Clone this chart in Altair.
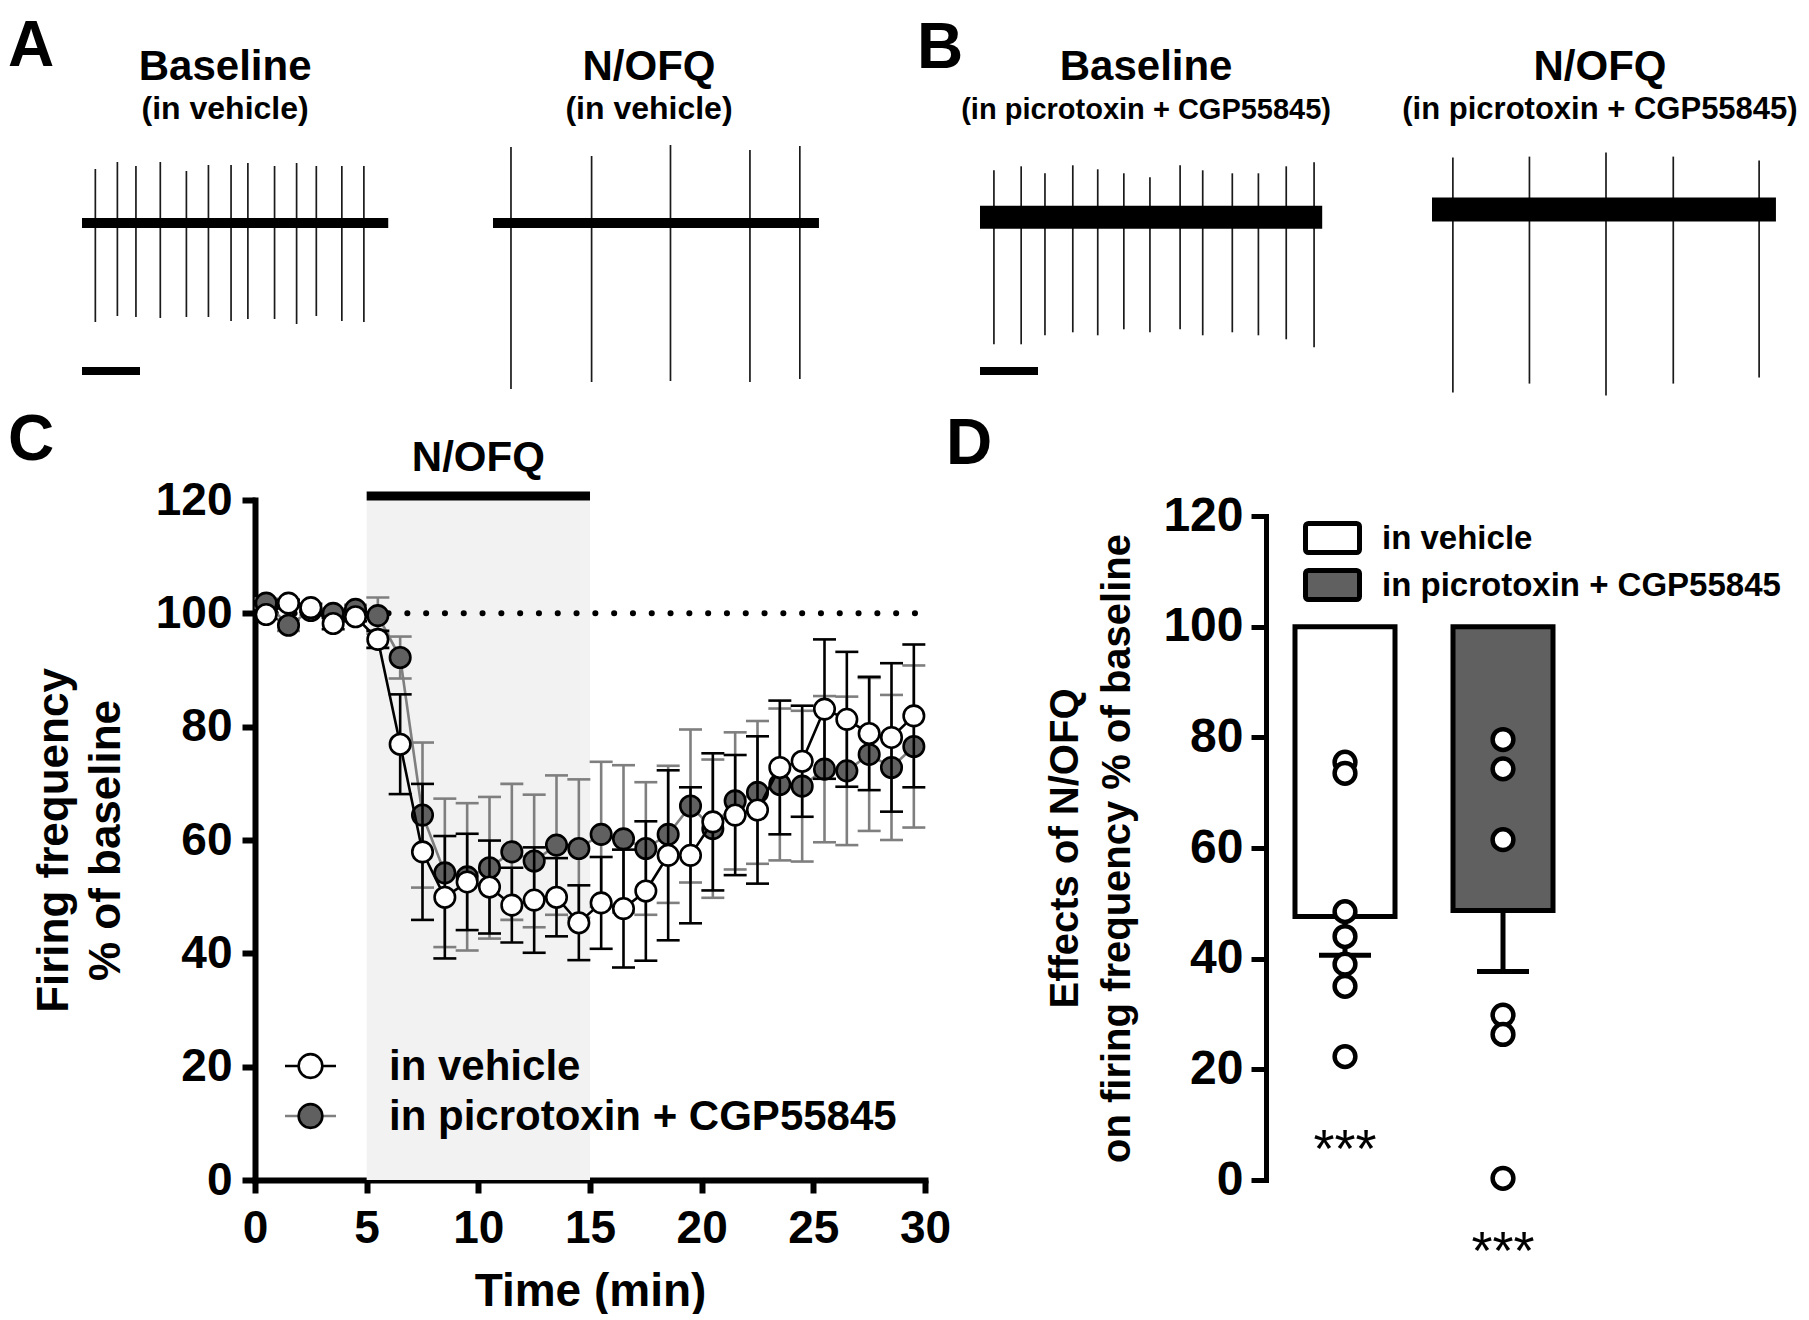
import altair as alt
import pandas as pd

FONT = "Liberation Sans"

# ---------------- A / B : example recordings ----------------
trace_titles = ["Baseline", "N/OFQ", "Baseline", "N/OFQ"]
trace_subtitles = ["(in vehicle)", "(in vehicle)",
                   "(in picrotoxin + CGP55845)", "(in picrotoxin + CGP55845)"]
trace_duration = [5.28, 5.62, 5.90, 5.93]      # s
trace_dc = [0.0, 0.0, 5.7, 13.4]                # baseline level
trace_noise = [5.0, 5.0, 11.5, 12.0]            # half width of noise band

spikes_A_base_t = [0.23, 0.61, 0.93, 1.35, 1.80, 2.18, 2.57, 2.86, 3.32, 3.70, 4.04, 4.48, 4.86]
spikes_A_base_up = [54, 61, 57, 61, 52, 58, 58, 60, 57, 60, 57, 57, 57]
spikes_A_base_down = [99, 93, 94, 95, 94, 94, 98, 96, 96, 101, 93, 98, 99]

spikes_A_nofq_t = [0.31, 1.70, 3.06, 4.43, 5.29]
spikes_A_nofq_up = [76, 67, 78, 73, 77]
spikes_A_nofq_down = [166, 159, 158, 159, 156]

spikes_B_base_t = [0.24, 0.71, 1.12, 1.60, 2.03, 2.48, 2.93, 3.45, 3.84, 4.35, 4.80, 5.28, 5.76]
spikes_B_base_up = [47, 51, 44, 52, 48, 44, 40, 52, 47, 44, 44, 51, 55]
spikes_B_base_down = [127, 127, 118, 115, 118, 112, 115, 112, 118, 115, 118, 122, 130]

spikes_B_nofq_t = [0.36, 1.68, 3.00, 4.16, 5.64]
spikes_B_nofq_up = [52, 53, 57, 53, 49]
spikes_B_nofq_down = [183, 174, 186, 174, 168]

scale_bar_s = 1.0

# ---------------- C : time course ----------------
time_min = [0.5, 1.5, 2.5, 3.5, 4.5, 5.5, 6.5, 7.5, 8.5, 9.5, 10.5, 11.5, 12.5, 13.5, 14.5,
            15.5, 16.5, 17.5, 18.5, 19.5, 20.5, 21.5, 22.5, 23.5, 24.5, 25.5, 26.5, 27.5, 28.5, 29.5]
veh_mean = [99.8, 101.8, 101.0, 98.2, 99.4, 95.4, 76.9, 57.9, 49.9, 52.6, 51.7, 48.5, 49.4, 49.9, 45.4,
            48.9, 47.9, 51.0, 57.3, 57.3, 63.2, 64.4, 65.3, 72.8, 73.9, 83.1, 81.3, 78.8, 78.1, 81.9]
veh_sem = [0.8, 0.6, 0.7, 1.0, 0.8, 1.5, 8.8, 12.0, 10.8, 8.5, 8.2, 6.6, 9.3, 6.9, 6.6,
           8.1, 10.4, 12.3, 15.0, 12.0, 12.1, 10.6, 13.0, 11.8, 9.8, 12.3, 11.9, 10.0, 13.1, 12.6]
pic_mean = [101.8, 97.9, 100.5, 100.0, 100.7, 99.6, 92.2, 64.4, 54.2, 53.5, 55.1, 57.9, 56.3, 59.1, 58.5,
            61.0, 60.2, 58.5, 61.0, 66.0, 62.0, 66.9, 68.4, 69.8, 69.5, 72.5, 72.2, 75.1, 72.8, 76.5]
pic_sem = [0.8, 1.0, 0.8, 0.8, 0.8, 3.2, 3.7, 12.8, 13.1, 13.0, 12.5, 12.0, 11.7, 12.3, 12.2,
           12.8, 13.0, 11.7, 12.1, 13.5, 12.2, 12.1, 12.6, 13.4, 13.3, 12.9, 13.1, 13.5, 12.8, 14.3]
series_names = ["in vehicle", "in picrotoxin + CGP55845"]
drug_label = "N/OFQ"
drug_start, drug_end = 5, 15
baseline_pct = 100
time_ticks = [0, 5, 10, 15, 20, 25, 30]
pct_ticks = [0, 20, 40, 60, 80, 100, 120]

# ---------------- D : summary ----------------
d_mean = [47.6, 48.7]
d_sem = [7.0, 11.0]
d_points_vehicle = [75.5, 73.5, 48.5, 44.0, 39.0, 35.0, 22.3]
d_points_picro = [79.6, 74.3, 61.5, 29.8, 26.3, 0.3]
sig_label = "***"

# ================= layout / style constants =================
PX_PER_S = 58
TRACE_Y = [-175, 92]
TRACE_H = TRACE_Y[1] - TRACE_Y[0]
trace_pad_px = [32, 72, 89, 20]
title_dx = [-10, -7, -5, -4]
sub_sizes = [32, 32, 29, 31]
sig_gap = [14.4, 10.7]          # annotation gap below the lowest point (y units)
W_C, H_C = 670, 680
W_D, H_D = 316, 680
D_TOP = 16
FILL_COLORS = ["white", "#606060"]
LINE_COLORS = ["black", "#7f7f7f"]


def letter_layer(letter, px, py):
    return alt.Chart(pd.DataFrame({"l": [letter]})).mark_text(
        font=FONT, fontSize=64, fontWeight="bold", align="left",
        baseline="alphabetic", color="black"
    ).encode(text="l:N", x=alt.value(px), y=alt.value(py))


def trace_panel(i, t, up, down, scale_bar=False):
    dur = trace_duration[i]
    pad = trace_pad_px[i] / PX_PER_S
    dc = trace_dc[i]
    xs = alt.Scale(domain=[-pad, dur + pad], nice=False, zero=False)
    ys = alt.Scale(domain=TRACE_Y, nice=False, zero=False)
    band = pd.DataFrame({"x0": [0.0], "x1": [dur], "lo": [dc - trace_noise[i]],
                         "hi": [dc + trace_noise[i]]})
    sp = pd.DataFrame({"t": t, "top": [dc + u for u in up], "bot": [dc - d for d in down]})
    ttl = pd.DataFrame({"dur": [dur], "title": [trace_titles[i]], "sub": [trace_subtitles[i]]})
    layers = [
        alt.Chart(sp).mark_rule(color="#1a1a1a", strokeWidth=1.7).encode(
            x=alt.X("t:Q", scale=xs, axis=None),
            y=alt.Y("bot:Q", scale=ys, axis=None), y2="top:Q"),
        alt.Chart(band).mark_rect(color="black").encode(
            x=alt.X("x0:Q", scale=xs, axis=None), x2="x1:Q",
            y=alt.Y("lo:Q", scale=ys, axis=None), y2="hi:Q"),
        alt.Chart(ttl).transform_calculate(mid="datum.dur / 2").mark_text(
            font=FONT, fontSize=42, fontWeight="bold", baseline="alphabetic", color="black",
            dx=title_dx[i]).encode(
            x=alt.X("mid:Q", scale=xs, axis=None), y=alt.value(-51.5), text="title:N"),
        alt.Chart(ttl).transform_calculate(mid="datum.dur / 2").mark_text(
            font=FONT, fontSize=sub_sizes[i], fontWeight="bold", baseline="alphabetic",
            color="black", dx=title_dx[i]).encode(
            x=alt.X("mid:Q", scale=xs, axis=None), y=alt.value(-11.7), text="sub:N"),
    ]
    if scale_bar:
        sb = pd.DataFrame({"s0": [0.0], "s1": [scale_bar_s]})
        layers.append(alt.Chart(sb).mark_rule(color="black", strokeWidth=8).encode(
            x=alt.X("s0:Q", scale=xs, axis=None), x2="s1:Q", y=alt.value(240)))
    return alt.layer(*layers).properties(width=(dur + 2 * pad) * PX_PER_S, height=TRACE_H)


pA1 = trace_panel(0, spikes_A_base_t, spikes_A_base_up, spikes_A_base_down, scale_bar=True)
pA2 = trace_panel(1, spikes_A_nofq_t, spikes_A_nofq_up, spikes_A_nofq_down)
pB1 = trace_panel(2, spikes_B_base_t, spikes_B_base_up, spikes_B_base_down, scale_bar=True)
pB2 = trace_panel(3, spikes_B_nofq_t, spikes_B_nofq_up, spikes_B_nofq_down)
pB1 = alt.layer(pB1, letter_layer("B", 26, -62.9))
spacer_A = letter_layer("A", 0, -64.9).properties(width=42, height=TRACE_H)
row1 = alt.hconcat(spacer_A, pA1, pA2, pB1, pB2, spacing=0, bounds="flush")

# ================= panel C =================
rows = []
for name, m, s in [(series_names[0], veh_mean, veh_sem), (series_names[1], pic_mean, pic_sem)]:
    for t, mm, ss in zip(time_min, m, s):
        rows.append({"time": t, "series": name, "mean": mm, "lo": mm - ss, "hi": mm + ss})
df_c = pd.DataFrame(rows)

xs_c = alt.Scale(domain=[time_ticks[0], time_ticks[-1]], nice=False, zero=False)
ys_c = alt.Scale(domain=[pct_ticks[0], pct_ticks[-1]], nice=False)
ax_common = dict(labelFont=FONT, titleFont=FONT, labelFontWeight="bold", titleFontWeight="bold",
                 labelColor="black", titleColor="black", domainColor="black", tickColor="black",
                 grid=False, labelFlush=False, domainCap="square")
x_axis_c = alt.Axis(values=time_ticks, title="Time (min)", labelFontSize=46, titleFontSize=46,
                    domainWidth=6, tickWidth=6, tickSize=13, labelPadding=13, titlePadding=18,
                    **ax_common)
y_axis_c = alt.Axis(values=pct_ticks, title=["Firing frequency", "% of baseline"],
                    labelFontSize=46, titleFontSize=44, titleLineHeight=52,
                    domainWidth=6, tickWidth=6, tickSize=13, labelPadding=10, titlePadding=27,
                    **ax_common)


def XC(f):
    return alt.X(f, scale=xs_c, axis=x_axis_c)


def YC(f):
    return alt.Y(f, scale=ys_c, axis=y_axis_c)


color_c = alt.Color("series:N", scale=alt.Scale(domain=series_names, range=LINE_COLORS), legend=None)
fill_c = alt.Fill("series:N", scale=alt.Scale(domain=series_names, range=FILL_COLORS), legend=None)

drug_df = pd.DataFrame({"start": [drug_start], "end": [drug_end], "label": [drug_label]})
ref_df = pd.DataFrame({"x0": [time_ticks[0]], "x1": [time_ticks[-1]], "y": [baseline_pct]})

c_layers = [
    alt.Chart(drug_df).mark_rect(color="#f2f2f2").encode(
        x=XC("start:Q"), x2="end:Q", y=alt.value(0), y2=alt.value(H_C)),
    alt.Chart(ref_df).mark_rule(color="black", strokeWidth=6, strokeCap="round",
                                strokeDash=[0.1, 18.7], strokeDashOffset=-1.9).encode(
        x=XC("x0:Q"), x2="x1:Q", y=YC("y:Q")),
    alt.Chart(drug_df).mark_rule(color="black", strokeWidth=9).encode(
        x=XC("start:Q"), x2="end:Q", y=alt.value(-4)),
    alt.Chart(drug_df).transform_calculate(mid="(datum.start + datum.end) / 2").mark_text(
        font=FONT, fontSize=42, fontWeight="bold", baseline="alphabetic", color="black").encode(
        x=XC("mid:Q"), y=alt.value(-29), text="label:N"),
]
for name in [series_names[1], series_names[0]]:
    base = alt.Chart(df_c[df_c.series == name])
    c_layers += [
        base.mark_rule(strokeWidth=2.6).encode(x=XC("time:Q"), y=YC("lo:Q"), y2="hi:Q", color=color_c),
        base.mark_tick(orient="horizontal", size=23, thickness=2.6, opacity=1).encode(
            x=XC("time:Q"), y=YC("lo:Q"), color=color_c),
        base.mark_tick(orient="horizontal", size=23, thickness=2.6, opacity=1).encode(
            x=XC("time:Q"), y=YC("hi:Q"), color=color_c),
        base.mark_line(strokeWidth=2.6).encode(x=XC("time:Q"), y=YC("mean:Q"), color=color_c),
        base.mark_point(shape="circle", filled=True, size=420, stroke="black", strokeWidth=2.6,
                        opacity=1).encode(x=XC("time:Q"), y=YC("mean:Q"), fill=fill_c),
    ]

# legend of C (drawn as marks, one row per series)
for k, name in enumerate(series_names):
    row_y = 566 + 50 * k
    lab = alt.Chart(pd.DataFrame({"label": [name]}))
    c_layers += [
        lab.mark_rule(color=LINE_COLORS[k], strokeWidth=2.6).encode(
            x=alt.value(30), x2=alt.value(81), y=alt.value(row_y)),
        lab.mark_point(shape="circle", filled=True, fill=FILL_COLORS[k], stroke="black",
                       strokeWidth=2.6, size=560, opacity=1).encode(
            x=alt.value(55.5), y=alt.value(row_y)),
        lab.mark_text(font=FONT, fontSize=42, fontWeight="bold", align="left",
                      baseline="middle", color="black").encode(
            x=alt.value(134), y=alt.value(row_y + 1), text="label:N"),
    ]
chart_c = alt.layer(*c_layers).properties(width=W_C, height=H_C)

# ================= panel D =================
bars_df = pd.DataFrame({"group": series_names, "mean": d_mean, "base": [baseline_pct] * 2,
                        "lo": [m - s for m, s in zip(d_mean, d_sem)]})
pts_rows = [{"group": series_names[0], "v": v} for v in d_points_vehicle] + \
           [{"group": series_names[1], "v": v} for v in d_points_picro]
pts_df = pd.DataFrame(pts_rows)
sig_df = pd.DataFrame({"group": series_names, "label": [sig_label] * 2,
                       "y": [min(d_points_vehicle) - sig_gap[0], min(d_points_picro) - sig_gap[1]]})

xs_d = alt.Scale(domain=series_names, paddingInner=0.367, paddingOuter=0.1835)
ys_d = alt.Scale(domain=[pct_ticks[0], pct_ticks[-1]], range=[H_D, D_TOP], nice=False)
y_axis_d = alt.Axis(values=pct_ticks, title=["Effects of N/OFQ", "on firing frequency % of baseline"],
                    labelFontSize=48, titleFontSize=40, titleLineHeight=52,
                    domainWidth=5, tickWidth=5, tickSize=15, labelPadding=8, titlePadding=25,
                    **ax_common)


def XD():
    return alt.X("group:N", scale=xs_d, axis=None)


def YD(f):
    return alt.Y(f, scale=ys_d, axis=y_axis_d)


fill_d = alt.Fill("group:N", scale=alt.Scale(domain=series_names, range=FILL_COLORS), legend=None)

d_layers = [
    alt.Chart(bars_df).mark_rule(color="black", strokeWidth=5).encode(
        x=XD(), y=YD("mean:Q"), y2="lo:Q"),
    alt.Chart(bars_df).mark_tick(orient="horizontal", size=52, thickness=5, color="black",
                                 opacity=1).encode(x=XD(), y=YD("lo:Q")),
    alt.Chart(bars_df).mark_bar(stroke="black", strokeWidth=5, opacity=1).encode(
        x=XD(), y=YD("base:Q"), y2="mean:Q", fill=fill_d),
    alt.Chart(pts_df).mark_point(shape="circle", filled=True, fill="white", stroke="black",
                                 strokeWidth=4.5, size=430, opacity=1).encode(x=XD(), y=YD("v:Q")),
    alt.Chart(sig_df).mark_text(font=FONT, fontSize=54, color="black", baseline="alphabetic",
                                dy=31).encode(x=XD(), y=YD("y:Q"), text="label:N"),
]
# legend of D (drawn as marks)
for k, name in enumerate(series_names):
    cy = 38 + 47 * k
    lab = alt.Chart(pd.DataFrame({"label": [name]}))
    d_layers += [
        lab.mark_rect(fill=FILL_COLORS[k], stroke="black", strokeWidth=5, strokeJoin="round",
                      cornerRadius=3).encode(
            x=alt.value(39.5), x2=alt.value(93.5), y=alt.value(cy - 14.5), y2=alt.value(cy + 14.5)),
        lab.mark_text(font=FONT, fontSize=33, fontWeight="bold", align="left",
                      baseline="middle", color="black").encode(
            x=alt.value(116), y=alt.value(cy + 1), text="label:N"),
    ]
chart_d = alt.layer(*d_layers).properties(width=W_D, height=H_D)

spacer_C = letter_layer("C", 0, -40).properties(width=247, height=H_C)
spacer_D = letter_layer("D", 21, -36).properties(width=341, height=H_C)
row2 = alt.hconcat(spacer_C, chart_c, spacer_D, chart_d, spacing=0, bounds="flush")

chart = alt.vconcat(row1, row2, spacing=11).properties(
    padding={"top": 7, "left": 0, "right": 0, "bottom": 0}, background="white"
).configure_view(stroke="transparent", strokeWidth=0)

chart.save("out.html", embed_options={"renderer": "svg", "actions": False})
